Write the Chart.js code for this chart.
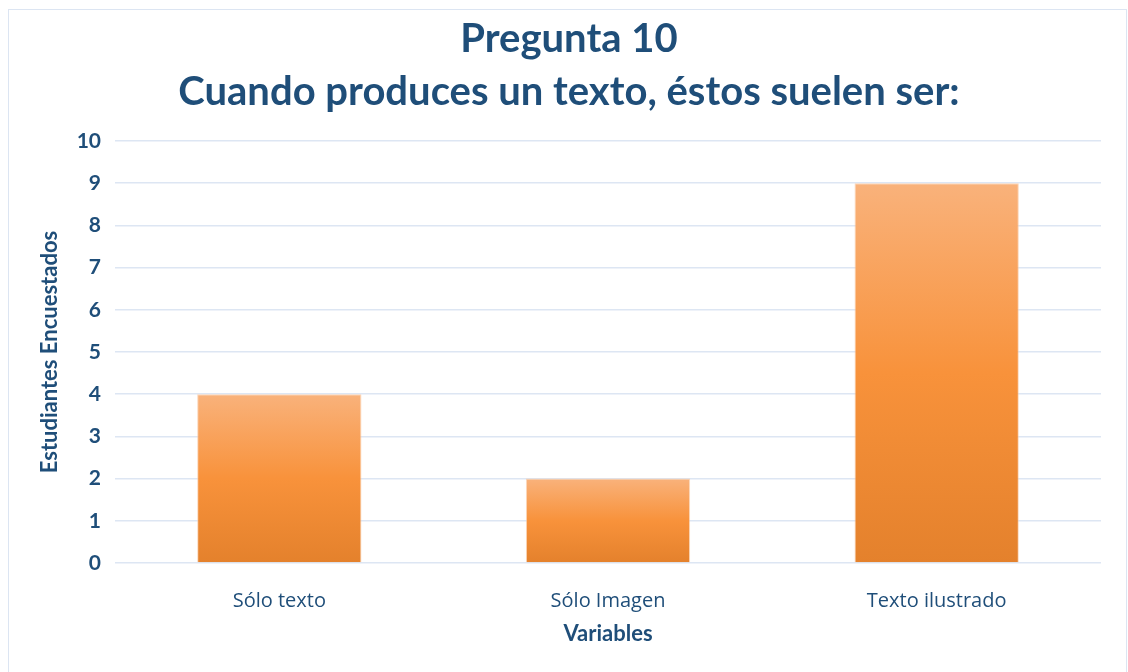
<!DOCTYPE html>
<html lang="es">
<head>
  <meta charset="UTF-8">
  <title>Pregunta 10</title>
  <script src="https://cdn.jsdelivr.net/npm/chart.js"></script>
  <style>
    body { margin: 0; background: #fff; }
    .marco { position: absolute; left: 8px; top: 9px; width: 1117px; height: 680px; border: 1px solid #dce5f2; }
    .grafico { position: absolute; left: 0; top: 0; width: 1128px; height: 672px; }
  </style>
</head>
<body>
  <div class="marco"></div>
  <div class="grafico"><canvas id="pregunta10"></canvas></div>
  <script>
    const categorias = ['Sólo texto', 'Sólo Imagen', 'Texto ilustrado'];
    const estudiantes = [4, 2, 9];
    const titulo = ['Pregunta 10', 'Cuando produces un texto, éstos suelen ser:'];

    const azul = '#1f4e79';
    const rejilla = '#dde6f3';

    // degradado naranja de arriba hacia abajo de cada barra
    function colorBarra(ctx) {
      const chart = ctx.chart;
      const area = chart.chartArea;
      if (!area) return '#f79646';
      const y = chart.scales.y;
      const top = y.getPixelForValue(ctx.raw);
      const base = y.getPixelForValue(0);
      const g = chart.ctx.createLinearGradient(0, top, 0, base);
      g.addColorStop(0, '#f9b27b');
      g.addColorStop(0.5, '#f8923b');
      g.addColorStop(1, '#e4812c');
      return g;
    }

    new Chart(document.getElementById('pregunta10'), {
      type: 'bar',
      data: {
        labels: categorias,
        datasets: [{
          label: 'Estudiantes Encuestados',
          data: estudiantes,
          backgroundColor: colorBarra,
          borderColor: 'rgba(250,200,160,0.7)',
          borderWidth: 1,
          barPercentage: 0.5,
          categoryPercentage: 1
        }]
      },
      options: {
        responsive: true,
        maintainAspectRatio: false,
        animation: false,
        layout: { padding: { top: 11, right: 27, bottom: 24, left: 37 } },
        plugins: {
          legend: { display: false },
          tooltip: { enabled: false },
          title: {
            display: true,
            text: titulo,
            color: azul,
            font: { family: 'Lato', size: 40, weight: 'bold', lineHeight: 1.325 },
            padding: { top: 2, bottom: 22 }
          }
        },
        scales: {
          x: {
            grid: { display: false },
            border: { display: false },
            ticks: { color: azul, font: { family: 'Open Sans', size: 20 }, padding: 18 },
            title: {
              display: true,
              text: 'Variables',
              color: azul,
              font: { family: 'Lato', size: 22, weight: 'bold' },
              padding: { top: 10, bottom: 1 }
            },
            afterFit: s => { s.height = 672 - 24 - 563; }
          },
          y: {
            min: 0,
            max: 10,
            grid: { color: rejilla, lineWidth: 1.5, drawTicks: false },
            border: { display: false },
            ticks: { stepSize: 1, color: azul, font: { family: 'Lato', size: 21, weight: 'bold' }, padding: 14 },
            title: {
              display: true,
              text: 'Estudiantes Encuestados',
              color: azul,
              font: { family: 'Lato', size: 22, weight: 'bold' },
              padding: { top: 0, bottom: 0 }
            },
            afterFit: s => { s.width = 115 - 37; }
          }
        }
      }
    });
  </script>
</body>
</html>
